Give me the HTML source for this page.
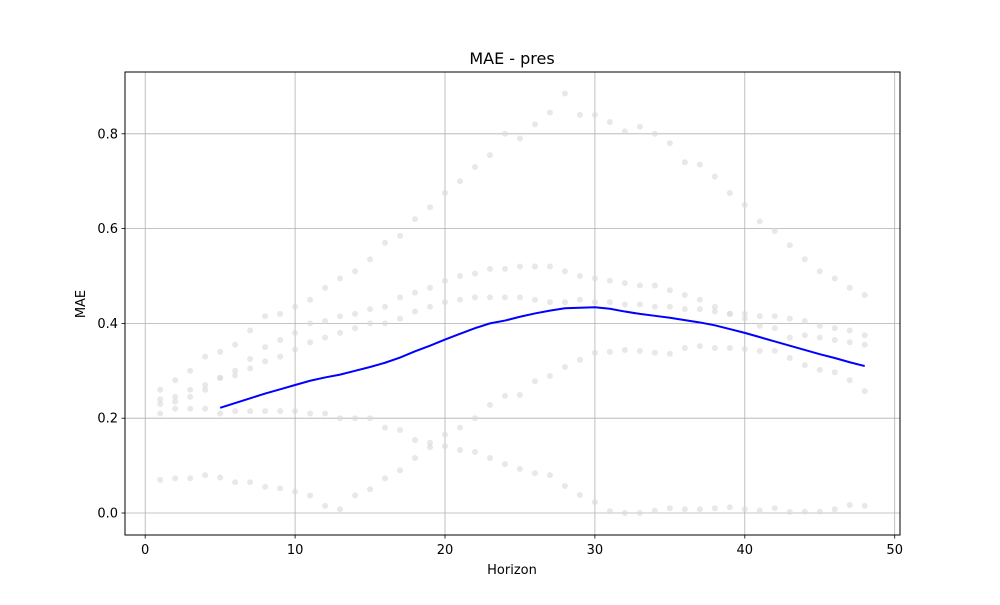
<!DOCTYPE html>
<html><head><meta charset="utf-8"><style>
body{margin:0;background:#fff;font-family:"Liberation Sans","DejaVu Sans",sans-serif;}
svg text{font-family:"DejaVu Sans","Liberation Sans",sans-serif;}
</style></head><body>
<svg id="chart" width="1000" height="600" viewBox="0 0 1000 600">
<rect width="1000" height="600" fill="#fff"/>
<g id="grid"></g>
<g id="dots"></g>
<g id="line"></g>
<rect x="125" y="72" width="775" height="463" fill="none" stroke="#000" stroke-width="1"/>
<g id="ticks"></g>
<text x="512" y="64" text-anchor="middle" font-size="16">MAE - pres</text>
<text x="512" y="574" text-anchor="middle" font-size="13">Horizon</text>
<text x="85" y="304" text-anchor="middle" font-size="13" transform="rotate(-90 85 304)">MAE</text>
</svg>
<script>
const xTicks=[0,10,20,30,40,50];
const yTicks=[0.0,0.2,0.4,0.6,0.8];
const yTickLabels=["0.0","0.2","0.4","0.6","0.8"];
const seriesA=[0.26,0.28,0.30,0.33,0.34,0.355,0.385,0.415,0.42,0.435,0.45,0.475,0.495,0.51,0.535,0.57,0.585,0.62,0.645,0.675,0.70,0.73,0.755,0.80,0.79,0.82,0.845,0.885,0.84,0.84,0.825,0.805,0.815,0.80,0.78,0.74,0.735,0.71,0.675,0.65,0.615,0.595,0.565,0.535,0.51,0.495,0.475,0.46];
const seriesB=[0.24,0.245,0.26,0.27,0.285,0.30,0.325,0.35,0.365,0.38,0.40,0.405,0.415,0.42,0.43,0.435,0.455,0.465,0.475,0.49,0.50,0.505,0.515,0.515,0.52,0.52,0.52,0.51,0.50,0.495,0.49,0.485,0.48,0.48,0.47,0.46,0.45,0.435,0.42,0.42,0.415,0.415,0.41,0.405,0.395,0.39,0.385,0.375];
const seriesC=[0.23,0.235,0.245,0.26,0.285,0.29,0.305,0.32,0.33,0.345,0.36,0.37,0.38,0.39,0.40,0.40,0.41,0.425,0.435,0.445,0.45,0.455,0.455,0.455,0.455,0.45,0.445,0.445,0.45,0.445,0.445,0.44,0.44,0.435,0.435,0.43,0.43,0.425,0.42,0.41,0.395,0.39,0.37,0.375,0.37,0.365,0.36,0.355];
const seriesD=[0.21,0.22,0.22,0.22,0.21,0.215,0.215,0.215,0.215,0.215,0.21,0.21,0.20,0.20,0.20,0.18,0.175,0.154,0.148,0.141,0.133,0.129,0.116,0.103,0.093,0.084,0.080,0.057,0.038,0.023,0.004,0.0,0.0,0.005,0.01,0.008,0.008,0.01,0.012,0.008,0.005,0.01,0.002,0.003,0.003,0.008,0.017,0.015];
const seriesE=[0.07,0.073,0.073,0.08,0.075,0.065,0.065,0.055,0.052,0.045,0.037,0.015,0.008,0.037,0.05,0.073,0.09,0.116,0.139,0.165,0.18,0.20,0.228,0.247,0.249,0.278,0.289,0.308,0.323,0.338,0.34,0.344,0.342,0.338,0.336,0.348,0.352,0.348,0.348,0.346,0.342,0.342,0.327,0.312,0.302,0.297,0.28,0.257];
const meanX=[5,6,7,8,9,10,11,12,13,14,15,16,17,18,19,20,21,22,23,24,25,26,27,28,29,30,31,32,33,34,35,36,37,38,39,40,41,42,43,44,45,46,47,48];
const meanY=[0.222,0.232,0.242,0.252,0.261,0.27,0.279,0.286,0.292,0.3,0.308,0.317,0.328,0.341,0.353,0.366,0.378,0.39,0.40,0.406,0.414,0.421,0.427,0.432,0.433,0.434,0.431,0.425,0.42,0.416,0.412,0.407,0.402,0.396,0.388,0.38,0.371,0.362,0.353,0.344,0.335,0.327,0.318,0.31];
const NS="http://www.w3.org/2000/svg";
const X=v=>145.2+v*14.99;
const Y=v=>513-v*474;
function mk(tag,attrs,parent){const e=document.createElementNS(NS,tag);for(const k in attrs)e.setAttribute(k,attrs[k]);parent.appendChild(e);return e;}
const grid=document.getElementById('grid'),ticks=document.getElementById('ticks');
xTicks.forEach(t=>{
 const g=mk('line',{x1:X(t),x2:X(t),y1:72,y2:535,stroke:'#b0b0b0','stroke-width':0.8},grid);
 
 
 const tk=mk('line',{x1:X(t),x2:X(t),y1:535,y2:538.5,stroke:'#000','stroke-width':0.8},ticks);
 
 
 const tl=mk('text',{x:X(t),y:554,'text-anchor':'middle','font-size':13},ticks);
 tl.textContent=String(t);
 
 
});
yTicks.forEach((t,i)=>{
 const g=mk('line',{x1:125,x2:900,y1:Y(t),y2:Y(t),stroke:'#b0b0b0','stroke-width':0.8},grid);
 
 
 const tk=mk('line',{x1:121.5,x2:125,y1:Y(t),y2:Y(t),stroke:'#000','stroke-width':0.8},ticks);
 
 
 const tl=mk('text',{x:118,y:Y(t)+4.5,'text-anchor':'end','font-size':13},ticks);
 tl.textContent=yTickLabels[i];
 
 
});
const dots=document.getElementById('dots');
[seriesA,seriesB,seriesC,seriesD,seriesE].forEach(s=>{
 s.forEach((v,i)=>{
  const c=mk('circle',{cx:X(i+1),cy:Y(v),r:3,fill:'#d8d8d8','fill-opacity':0.6},dots);
  
  
 });
});
const pts=meanX.map((x,i)=>X(x)+','+Y(meanY[i])).join(' ');
const pl=mk('polyline',{points:pts,fill:'none',stroke:'#0000ff','stroke-width':2},document.getElementById('line'));


</script>
</body></html>
